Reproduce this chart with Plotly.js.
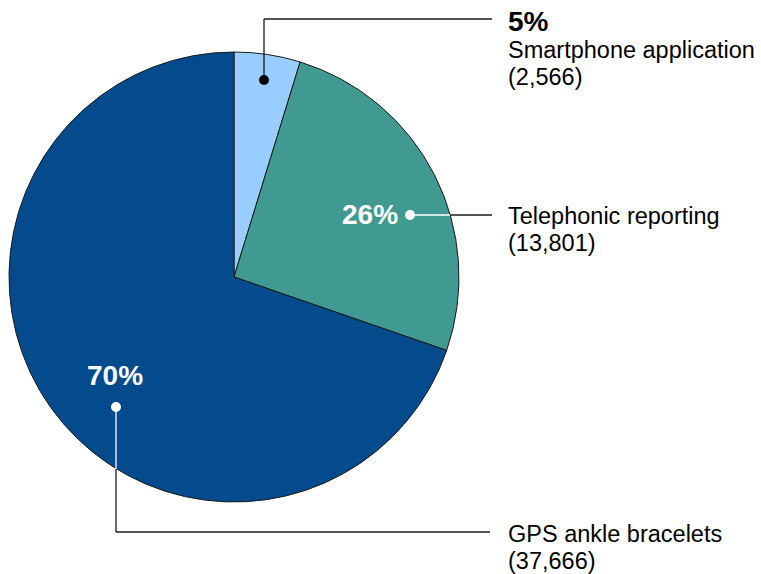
<!DOCTYPE html>
<html>
<head>
<meta charset="utf-8">
<script src="https://cdn.plot.ly/plotly-3.0.1.min.js"></script>
<style>html,body{margin:0;padding:0;background:#fff;}#chart{width:761px;height:574px;}</style>
</head>
<body>
<div id="chart"></div>
<script>
const categories = ["Smartphone application", "Telephonic reporting", "GPS ankle bracelets"];
const values = [2566, 13801, 37666];
const colors = ["#99ccff", "#419a91", "#034b8c"];

const W = 761, H = 574;
const px = x => x / W;
const py = y => 1 - y / H;
const total = values.reduce((a, b) => a + b, 0);
const pct = values.map(v => Math.round(v / total * 100) + "%");
const fmt = v => "(" + v.toLocaleString("en-US") + ")";

const FONT = "Liberation Sans, Arial, sans-serif";
const dark = "#1a1a1a";
const LBL = 23.5, PCT = 28;

const trace = {
  type: "pie",
  labels: categories,
  values: values,
  sort: false,
  direction: "clockwise",
  rotation: 0,
  textinfo: "none",
  hoverinfo: "none",
  marker: { colors: colors, line: { color: dark, width: 1 } },
  domain: { x: [px(9), px(459)], y: [py(502), py(52)] },
  showlegend: false
};

function line(x0, y0, x1, y1, color) {
  return { type: "line", xref: "paper", yref: "paper", x0: px(x0), y0: py(y0), x1: px(x1), y1: py(y1),
    line: { color: color, width: 1.3 } };
}
function dot(x, y, color) {
  const r = 5;
  return { type: "circle", xref: "paper", yref: "paper", x0: px(x - r), x1: px(x + r), y0: py(y + r), y1: py(y - r),
    fillcolor: color, line: { width: 0 } };
}
function txt(x, y, t, size, color, bold, anchor) {
  return { xref: "paper", yref: "paper", x: px(x), y: py(y), text: bold ? "<b>" + t + "</b>" : t,
    showarrow: false, xanchor: anchor || "left", yanchor: "middle",
    font: { family: FONT, size: size, color: color } };
}

const shapes = [
  // Smartphone
  line(264, 80, 264, 19, dark), line(264, 19, 492, 19, dark), dot(264, 80, "#000"),
  // Telephonic
  line(410, 215, 450, 215, "#ffffff"), line(450, 215, 492, 215, dark), dot(410, 215, "#ffffff"),
  // GPS
  line(116, 407, 116, 469, "#ffffff"), line(116, 469, 116, 532, dark), line(116, 532, 490, 532, dark),
  dot(116, 407, "#ffffff")
];

const annotations = [
  txt(506, 21, pct[0], PCT, "#000", true),
  txt(506, 50, categories[0], LBL, "#000", false),
  txt(506, 77, fmt(values[0]), LBL, "#000", false),
  txt(370, 215, pct[1], PCT, "#ffffff", true, "center"),
  txt(506, 216, categories[1], LBL, "#000", false),
  txt(506, 243, fmt(values[1]), LBL, "#000", false),
  txt(115, 376, pct[2], PCT, "#ffffff", true, "center"),
  txt(506, 534, categories[2], LBL, "#000", false),
  txt(506, 561, fmt(values[2]), LBL, "#000", false)
];

Plotly.newPlot("chart", [trace], {
  width: W, height: H,
  margin: { l: 0, r: 0, t: 0, b: 0 },
  paper_bgcolor: "#ffffff",
  shapes: shapes,
  annotations: annotations
}, { displayModeBar: false, staticPlot: true });
</script>
</body>
</html>
